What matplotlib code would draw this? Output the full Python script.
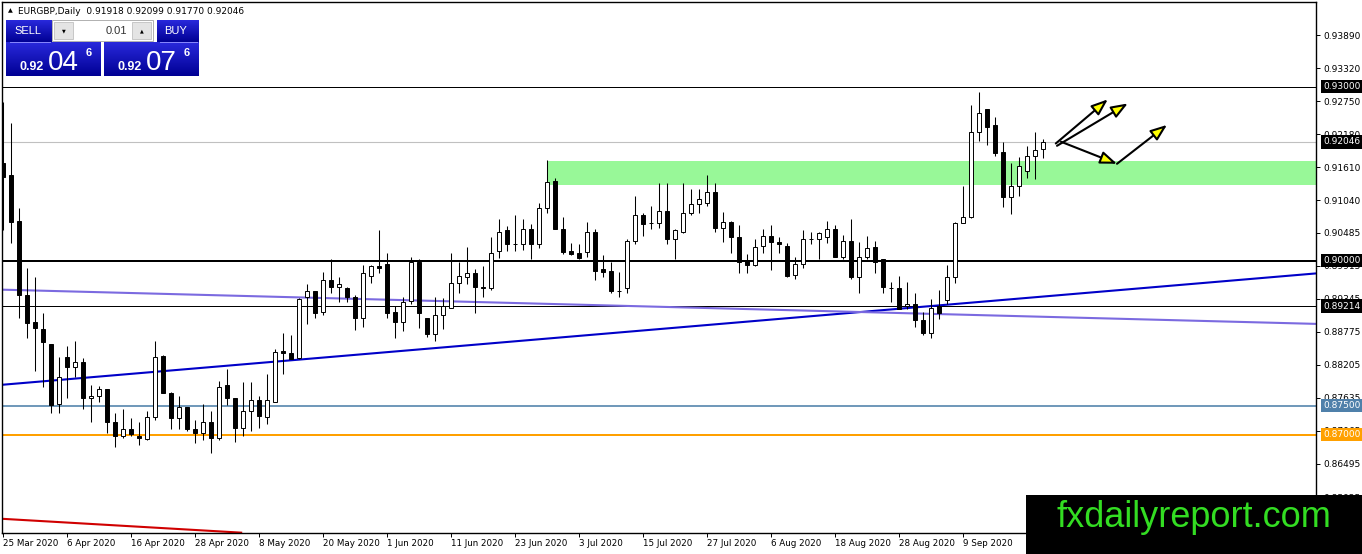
import numpy as np
import matplotlib.pyplot as plt
from matplotlib.patches import Rectangle
from matplotlib.transforms import blended_transform_factory

plt.rcParams['font.family'] = ['DejaVu Sans']

# EURGBP daily candles, 25 Mar 2020 .. 23 Sep 2020
opens = [
    0.9169, 0.9147, 0.9069, 0.8941, 0.8895, 0.8883, 0.8857, 0.8753, 0.8834, 0.8817,
    0.8826, 0.8764, 0.8766, 0.8778, 0.8721, 0.8697, 0.8710, 0.8698, 0.8693, 0.8731,
    0.8836, 0.8772, 0.8728, 0.8748, 0.8710, 0.8703, 0.8722, 0.8695, 0.8786, 0.8764,
    0.8712, 0.8740, 0.8760, 0.8731, 0.8757, 0.8845, 0.8841, 0.8833, 0.8938, 0.8947,
    0.8912, 0.8967, 0.8955, 0.8952, 0.8938, 0.8902, 0.8974, 0.8991, 0.8995, 0.8912,
    0.8895, 0.8931, 0.8997, 0.8902, 0.8874, 0.8907, 0.8919, 0.8962, 0.8972, 0.8979,
    0.8955, 0.8953, 0.9017, 0.9052, 0.9029, 0.9029, 0.9055, 0.9029, 0.9091, 0.9138,
    0.9055, 0.9017, 0.9014, 0.9015, 0.9050, 0.8986, 0.8983, 0.8948, 0.8952, 0.9034,
    0.9079, 0.9065, 0.9065, 0.9086, 0.9038, 0.9050, 0.9083, 0.9098, 0.9100, 0.9119,
    0.9057, 0.9067, 0.9041, 0.9000, 0.8993, 0.9026, 0.9043, 0.9033, 0.9026, 0.8976,
    0.8995, 0.9038, 0.9038, 0.9041, 0.9055, 0.9007, 0.9034, 0.8972, 0.9007, 0.9024,
    0.9002, 0.8953, 0.8952, 0.8921, 0.8926, 0.8897, 0.8876, 0.8921, 0.8933, 0.8972,
    0.9065, 0.9076, 0.9222, 0.9262, 0.9233, 0.9188, 0.9109, 0.9128, 0.9155, 0.9181,
    0.91918,
]
highs = [
    0.9274, 0.9238, 0.9091, 0.8988, 0.8971, 0.8910, 0.8857, 0.8834, 0.8853, 0.8862,
    0.8833, 0.8786, 0.8784, 0.8778, 0.8738, 0.8745, 0.8728, 0.8721, 0.8741, 0.8862,
    0.8838, 0.8774, 0.8766, 0.8748, 0.8726, 0.8753, 0.8740, 0.8793, 0.8814, 0.8764,
    0.8790, 0.8790, 0.8766, 0.8805, 0.8848, 0.8876, 0.8871, 0.8936, 0.8959, 0.8947,
    0.8981, 0.9002, 0.8972, 0.8955, 0.8940, 0.8993, 0.8993, 0.9053, 0.9014, 0.8921,
    0.8938, 0.9007, 0.9003, 0.8902, 0.8938, 0.8936, 0.9014, 0.8997, 0.9024, 0.8986,
    0.8990, 0.9041, 0.9072, 0.9060, 0.9078, 0.9072, 0.9064, 0.9100, 0.9174, 0.9143,
    0.9076, 0.9031, 0.9028, 0.9067, 0.9055, 0.9010, 0.8998, 0.8981, 0.9038, 0.9112,
    0.9083, 0.9095, 0.9134, 0.9134, 0.9055, 0.9134, 0.9124, 0.9124, 0.9147, 0.9134,
    0.9084, 0.9069, 0.9062, 0.9012, 0.9038, 0.9055, 0.9062, 0.9041, 0.9031, 0.9007,
    0.9052, 0.9050, 0.9050, 0.9069, 0.9062, 0.9045, 0.9072, 0.9033, 0.9043, 0.9034,
    0.9002, 0.8964, 0.8974, 0.8964, 0.8945, 0.8912, 0.8934, 0.8950, 0.8993, 0.9067,
    0.9129, 0.9269, 0.9290, 0.9262, 0.9248, 0.9205, 0.9169, 0.9178, 0.9197, 0.9221,
    0.92099,
]
lows = [
    0.9053, 0.9031, 0.8902, 0.8867, 0.8809, 0.8783, 0.8738, 0.8738, 0.8764, 0.8800,
    0.8745, 0.8722, 0.8757, 0.8703, 0.8679, 0.8695, 0.8697, 0.8683, 0.8691, 0.8726,
    0.8771, 0.8709, 0.8709, 0.8707, 0.8686, 0.8691, 0.8669, 0.8690, 0.8752, 0.8688,
    0.8697, 0.8707, 0.8712, 0.8719, 0.8757, 0.8805, 0.8831, 0.8831, 0.8891, 0.8902,
    0.8907, 0.8945, 0.8928, 0.8928, 0.8881, 0.8886, 0.8962, 0.8979, 0.8902, 0.8866,
    0.8878, 0.8926, 0.8884, 0.8869, 0.8862, 0.8883, 0.8919, 0.8945, 0.8959, 0.8910,
    0.8938, 0.8950, 0.9005, 0.9017, 0.9017, 0.9019, 0.9002, 0.9022, 0.9083, 0.9055,
    0.9012, 0.9009, 0.9002, 0.9007, 0.8967, 0.8972, 0.8945, 0.8938, 0.8945, 0.9028,
    0.9043, 0.9055, 0.9057, 0.9029, 0.9002, 0.9048, 0.9078, 0.9083, 0.9095, 0.9050,
    0.9033, 0.9014, 0.8979, 0.8979, 0.8990, 0.9014, 0.8984, 0.9014, 0.8972, 0.8969,
    0.8988, 0.9029, 0.9002, 0.9031, 0.9007, 0.9003, 0.8969, 0.8945, 0.9002, 0.8979,
    0.8945, 0.8928, 0.8916, 0.8916, 0.8886, 0.8872, 0.8866, 0.8900, 0.8926, 0.8962,
    0.9065, 0.9074, 0.9207, 0.9200, 0.9181, 0.9093, 0.9081, 0.9112, 0.9143, 0.9141,
    0.91770,
]
closes = [
    0.9145, 0.9067, 0.8940, 0.8893, 0.8884, 0.8859, 0.8752, 0.8800, 0.8817, 0.8826,
    0.8764, 0.8767, 0.8779, 0.8721, 0.8697, 0.8710, 0.8702, 0.8695, 0.8731, 0.8834,
    0.8772, 0.8728, 0.8748, 0.8709, 0.8703, 0.8721, 0.8695, 0.8783, 0.8764, 0.8712,
    0.8740, 0.8760, 0.8733, 0.8759, 0.8843, 0.8840, 0.8831, 0.8934, 0.8947, 0.8910,
    0.8967, 0.8955, 0.8959, 0.8938, 0.8902, 0.8978, 0.8990, 0.8988, 0.8910, 0.8895,
    0.8929, 0.8997, 0.8910, 0.8874, 0.8907, 0.8921, 0.8962, 0.8974, 0.8979, 0.8955,
    0.8952, 0.9014, 0.9050, 0.9029, 0.9029, 0.9055, 0.9029, 0.9091, 0.9136, 0.9055,
    0.9015, 0.9012, 0.9005, 0.9050, 0.8983, 0.8981, 0.8947, 0.8948, 0.9034, 0.9079,
    0.9064, 0.9065, 0.9086, 0.9038, 0.9052, 0.9083, 0.9098, 0.9107, 0.9119, 0.9057,
    0.9067, 0.9041, 0.8998, 0.8993, 0.9024, 0.9043, 0.9033, 0.9029, 0.8974, 0.8995,
    0.9038, 0.9038, 0.9047, 0.9055, 0.9007, 0.9034, 0.8972, 0.9007, 0.9022, 0.8998,
    0.8955, 0.8953, 0.8917, 0.8926, 0.8897, 0.8876, 0.8919, 0.8910, 0.8972, 0.9065,
    0.9076, 0.9222, 0.9255, 0.9231, 0.9186, 0.9109, 0.9129, 0.9164, 0.9181, 0.9191,
    0.92046,
]

date_labels = ['25 Mar 2020', '6 Apr 2020', '16 Apr 2020', '28 Apr 2020', '8 May 2020',
               '20 May 2020', '1 Jun 2020', '11 Jun 2020', '23 Jun 2020', '3 Jul 2020',
               '15 Jul 2020', '27 Jul 2020', '6 Aug 2020', '18 Aug 2020', '28 Aug 2020',
               '9 Sep 2020']
bars_per_label = 8

price_ticks = [0.93890, 0.93320, 0.92750, 0.92180, 0.91610, 0.91040, 0.90485, 0.89915,
               0.89345, 0.88775, 0.88205, 0.87635, 0.87065, 0.86495, 0.85925]
price_tick_labels = ['0.93890', '0.93320', '0.92750', '0.92180', '0.91610', '0.91040',
                     '0.90485', '0.89915', '0.89345', '0.88775', '0.88205', '0.87635',
                     '0.87065', '0.86495', '0.85925']

# horizontal levels: value, colour, width (px), label box colour
levels = [
    (0.93000, 'black', 1.0, 'black'),
    (0.90000, 'black', 2.0, 'black'),
    (0.89214, 'black', 1.0, 'black'),
    (0.87500, '#4f80aa', 1.6, '#4f80aa'),
    (0.87000, '#ffa000', 2.0, '#ffa000'),
]
bid_price = 0.92046

# supply / demand zone (starts at bar 68)
zone_start = 68
zone_low, zone_high = 0.9131, 0.9172

# trend lines as (bar, price) anchors
blue_trend = [(-0.125, 0.8786), (164.125, 0.8978)]
purple_trend = [(-0.125, 0.8950), (164.125, 0.8891)]
red_trend = [(-0.125, 0.8555), (29.9, 0.8531)]

# yellow arrows drawn on the chart (bar, price) -> (bar, price)
arrows = [
    ((131.6, 0.9202), (138.1, 0.9278)),
    ((131.75, 0.9198), (140.6, 0.9271)),
    ((132.25, 0.9205), (139.25, 0.9167)),
    ((139.25, 0.9167), (145.5, 0.9234)),
]

W, H = 1362, 554
fig = plt.figure(figsize=(W / 100, H / 100), dpi=100)
ax = fig.add_axes([2 / W, 21 / H, 1314 / W, 531 / H])
ax.set_xlim(-0.125, 164.125)
ax.set_ylim(0.85305, 0.94459)

o = np.array(opens)
h = np.array(highs)
l = np.array(lows)
c = np.array(closes)
idx = np.arange(len(o))

# background objects
ax.add_patch(Rectangle((zone_start, zone_low), 200, zone_high - zone_low,
                       facecolor='#98f898', edgecolor='none', zorder=1))
ax.axhline(bid_price, color='#c0c0c0', lw=0.8, zorder=1.5)
for val, col, px, _ in levels:
    ax.axhline(val, color=col, lw=px * 0.72, zorder=2)
for line, col in [(blue_trend, '#0000c8'), (purple_trend, '#7b6ae0'), (red_trend, '#d00000')]:
    xs, ys = zip(*line)
    ax.plot(xs, ys, color=col, lw=1.5, zorder=2.2, solid_capstyle='butt')

# candles
up = c > o
ax.vlines(idx, l, h, color='black', lw=0.75, zorder=4)
ax.bar(idx, np.abs(c - o), bottom=np.minimum(o, c), width=0.6,
       color=np.where(up, 'white', 'black'), edgecolor='black', lw=0.7, zorder=5)

for start, end in arrows:
    ax.annotate('', xy=end, xytext=start,
                arrowprops=dict(arrowstyle='-|>,head_length=1.0,head_width=0.38',
                                fc='#ffff00', ec='black', lw=1.5,
                                shrinkA=0, shrinkB=0), zorder=6)

# axes styling
for sp in ax.spines.values():
    sp.set_linewidth(1.0)
ax.yaxis.tick_right()
ax.set_yticks(price_ticks)
ax.set_yticklabels(price_tick_labels)
ax.tick_params(axis='y', direction='out', length=3, width=0.7, pad=2, labelsize=6.5)
ax.set_xticks(np.arange(len(date_labels)) * bars_per_label)
ax.set_xticklabels(date_labels)
ax.tick_params(axis='x', direction='out', length=3, width=0.7, pad=1.5, labelsize=6.3)
for lbl in ax.get_xticklabels():
    lbl.set_ha('left')

# price label boxes on the right scale
yb = blended_transform_factory(ax.transAxes, ax.transData)
box_levels = [(bid_price, 'black')] + [(v, bc) for v, _, _, bc in levels]
for val, bc in box_levels:
    ax.annotate(f'{val:.5f}', xy=(1.0, val), xycoords=yb, xytext=(5, 0),
                textcoords='offset points', ha='left', va='center', fontsize=6.5,
                color='white', annotation_clip=False, zorder=10,
                bbox=dict(boxstyle='square,pad=0.25', fc=bc, ec='none'))

# overlay in pixel units for the trade panel and the watermark
ov = fig.add_axes([0, 0, 1, 1], zorder=20)
ov.axis('off')

def blue_box(x0, y0, x1, y1):
    grad = np.linspace(0, 1, 40)[:, None, None]
    top = np.array([0.16, 0.16, 0.86])
    bot = np.array([0.0, 0.0, 0.58])
    img = top + (bot - top) * grad
    ov.imshow(img, extent=(x0, x1, y1, y0), aspect='auto', zorder=1)

ov.text(8, 11, '\u25b2', fontsize=4.5, va='center', ha='left')
ov.text(18, 11, 'EURGBP,Daily  0.91918 0.92099 0.91770 0.92046', fontsize=6.5,
        va='center', ha='left')

blue_box(6, 20, 52, 42)
blue_box(157, 20, 199, 42)
blue_box(6, 42, 101, 76)
blue_box(104, 42, 199, 76)
ov.plot([10, 50], [41.5, 41.5], color='#8888ff', lw=0.7, zorder=2)
ov.plot([160, 197], [41.5, 41.5], color='#8888ff', lw=0.7, zorder=2)
ov.add_patch(Rectangle((52, 20), 101, 21, fc='white', ec='#b0b0b0', lw=0.7, zorder=1))
ov.add_patch(Rectangle((54, 22), 19, 17, fc='#e4e4e4', ec='#c0c0c0', lw=0.6, zorder=2))
ov.add_patch(Rectangle((132, 22), 19, 17, fc='#e4e4e4', ec='#c0c0c0', lw=0.6, zorder=2))
ov.text(63.5, 30.5, '\u25bc', fontsize=3.5, ha='center', va='center', zorder=3)
ov.text(141.5, 30.5, '\u25b2', fontsize=3.5, ha='center', va='center', zorder=3)
ov.text(127, 30.5, '0.01', fontsize=8, ha='right', va='center', color='#333333', zorder=3,
        family='Liberation Sans')
ov.text(28, 31, 'SELL', fontsize=8, ha='center', va='center', color='white', zorder=3,
        family='Liberation Sans')
ov.text(176, 31, 'BUY', fontsize=8, ha='center', va='center', color='white', zorder=3,
        family='Liberation Sans')
for x_small, x_big, x_sup, big in [(20, 48, 86, '04'), (118, 146, 184, '07')]:
    ov.text(x_small, 70, '0.92', fontsize=9, fontweight='bold', color='white',
            ha='left', va='baseline', zorder=3, family='Liberation Sans')
    ov.text(x_big, 70, big, fontsize=20, color='white', ha='left', va='baseline',
            zorder=3, family='Liberation Sans')
    ov.text(x_sup, 56, '6', fontsize=8, fontweight='bold', color='white',
            ha='left', va='baseline', zorder=3, family='Liberation Sans')

ov.add_patch(Rectangle((1026, 495), 336, 59, fc='black', ec='none', zorder=1))
ov.text(1194, 527, 'fxdailyreport.com', fontsize=26, color='#33dd22', ha='center',
        va='baseline', zorder=3, family='Liberation Sans')

ov.set_xlim(0, W)
ov.set_ylim(H, 0)

fig.savefig('out.png', dpi=100)
